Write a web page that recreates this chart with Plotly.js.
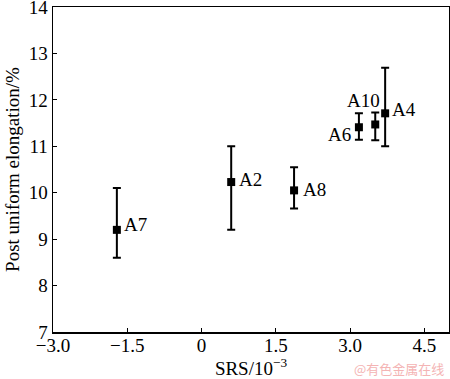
<!DOCTYPE html>
<html><head><meta charset="utf-8">
<script src="https://cdn.plot.ly/plotly-3.0.1.min.js"></script>
<style>html,body{margin:0;padding:0;background:#fff;}</style>
</head><body><div id="chart" style="width:450px;height:379px;"></div>
<script>
const samples = ["A7", "A2", "A8", "A6", "A10", "A4"];
const srs = [-1.71, 0.60, 1.87, 3.18, 3.51, 3.71];
const elongation = [9.20, 10.23, 10.05, 11.41, 11.47, 11.71];
const errPlus = [0.90, 0.77, 0.50, 0.30, 0.26, 0.98];
const errMinus = [0.60, 1.03, 0.39, 0.27, 0.34, 0.71];
const xTickVals = [-3.0, -1.5, 0, 1.5, 3.0, 4.5];
const xTickText = ["\u22123.0", "\u22121.5", "0", "1.5", "3.0", "4.5"];
const yTickVals = [7, 8, 9, 10, 11, 12, 13, 14];

const font = "Liberation Serif";
// label offsets in pixels relative to each point
const labelStyle = {
  A7: {xanchor: "left", xshift: 6, yshift: 5},
  A2: {xanchor: "left", xshift: 7, yshift: 3},
  A8: {xanchor: "left", xshift: 8, yshift: 1},
  A6: {xanchor: "right", xshift: -7, yshift: -7},
  A10: {xanchor: "center", xshift: -12, yshift: 24},
  A4: {xanchor: "left", xshift: 6, yshift: 4}
};

const annotations = samples.map((s, i) => Object.assign({
  x: srs[i], y: elongation[i], text: s, showarrow: false, borderpad: 0,
  yanchor: "middle", font: {family: font, size: 19, color: "#000"}, xref: "x", yref: "y"
}, labelStyle[s]));
annotations.push({xref: "paper", yref: "paper", x: 0.99, y: -0.112, xanchor: "right", yanchor: "middle",
  text: "@有色金属在线", showarrow: false, borderpad: 0,
  font: {family: "Noto Sans CJK SC", size: 13, color: "#f4b4b4"}});

Plotly.newPlot("chart", [{
  x: srs, y: elongation, type: "scatter", mode: "markers",
  marker: {symbol: "square", size: 8, color: "#000"},
  error_y: {type: "data", symmetric: false, array: errPlus, arrayminus: errMinus,
    color: "#000", thickness: 2, width: 4},
  showlegend: false, hoverinfo: "none"
}], {
  width: 450, height: 379,
  margin: {l: 53, r: 1, t: 7, b: 47},
  paper_bgcolor: "#fff", plot_bgcolor: "#fff",
  font: {family: font, size: 19, color: "#000"},
  xaxis: {range: [-3, 5], tickvals: xTickVals, ticktext: xTickText,
    ticks: "inside", ticklen: 4, tickwidth: 1, tickcolor: "#000",
    showline: true, linecolor: "#000", linewidth: 1.5, mirror: true,
    showgrid: false, zeroline: false, ticklabeloverflow: "allow", ticklabelstandoff: -4,
    tickfont: {family: font, size: 19, color: "#000"},
    title: {text: "SRS/10<sup>\u22123</sup>", font: {family: font, size: 19, color: "#000"}, standoff: 6}},
  yaxis: {range: [7, 14], tickvals: yTickVals,
    ticks: "inside", ticklen: 4, tickwidth: 1, tickcolor: "#000",
    showline: true, linecolor: "#000", linewidth: 1.5, mirror: true,
    showgrid: false, zeroline: false, ticklabeloverflow: "allow",
    tickfont: {family: font, size: 19, color: "#000"},
    title: {text: "Post uniform elongation/%", font: {family: font, size: 19, color: "#000"}, standoff: 4}},
  annotations: annotations
}, {displayModeBar: false, staticPlot: true});
</script></body></html>
